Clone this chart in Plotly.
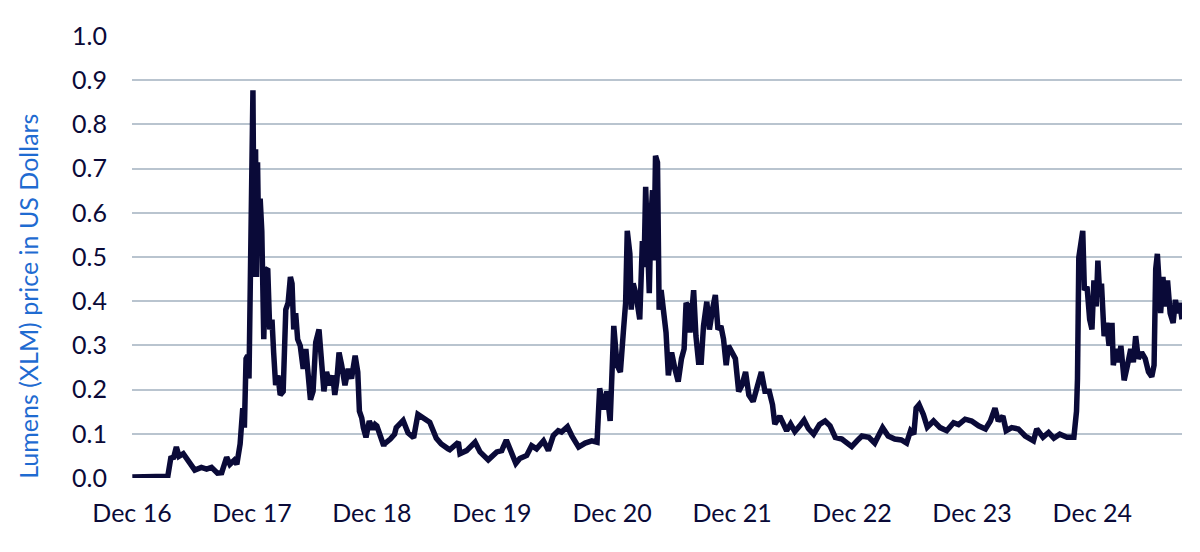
import pandas as pd
import plotly.graph_objects as go

# XLM price
dates = [
    "2017-01-01", "2017-02-25", "2017-04-19", "2017-04-28", "2017-05-07", "2017-05-15", "2017-05-23",
    "2017-06-05", "2017-06-17", "2017-06-30", "2017-07-10", "2017-07-30", "2017-08-15", "2017-08-30",
    "2017-09-17", "2017-09-30", "2017-10-15", "2017-10-25", "2017-11-07", "2017-11-15", "2017-11-25",
    "2017-12-03", "2017-12-08", "2017-12-13", "2017-12-18", "2017-12-22", "2017-12-27",
    "2018-01-03", "2018-01-07", "2018-01-11", "2018-01-14", "2018-01-17", "2018-01-21", "2018-01-25",
    "2018-01-30", "2018-02-05", "2018-02-10", "2018-02-17", "2018-02-23", "2018-03-02", "2018-03-07",
    "2018-03-13", "2018-03-20", "2018-03-27", "2018-04-05", "2018-04-13", "2018-04-20", "2018-04-27",
    "2018-05-02", "2018-05-07", "2018-05-13", "2018-05-19", "2018-05-27", "2018-06-05", "2018-06-13",
    "2018-06-20", "2018-06-27", "2018-07-05", "2018-07-13", "2018-07-23", "2018-07-30", "2018-08-07",
    "2018-08-15", "2018-08-25", "2018-09-03", "2018-09-09", "2018-09-15", "2018-09-22", "2018-09-30",
    "2018-10-10", "2018-10-20", "2018-10-30", "2018-11-10", "2018-11-18", "2018-11-23", "2018-11-30",
    "2018-12-05", "2018-12-13", "2018-12-23",
    "2019-01-03", "2019-01-10", "2019-01-15", "2019-02-05", "2019-02-07", "2019-02-25", "2019-03-10",
    "2019-03-15", "2019-04-05", "2019-04-20", "2019-05-07", "2019-05-20", "2019-06-10", "2019-06-25",
    "2019-07-15", "2019-07-30", "2019-08-20", "2019-08-25", "2019-09-20", "2019-09-25", "2019-10-15",
    "2019-11-10", "2019-11-25", "2019-12-20",
    "2020-01-15", "2020-01-30", "2020-02-13", "2020-02-25", "2020-03-13", "2020-03-25", "2020-04-15",
    "2020-04-30", "2020-05-15", "2020-06-05", "2020-06-20", "2020-07-05", "2020-07-20", "2020-07-30",
    "2020-08-17", "2020-08-30", "2020-09-20", "2020-10-10", "2020-10-30", "2020-11-15", "2020-11-23",
    "2020-12-05", "2020-12-15", "2020-12-25",
    "2021-01-05", "2021-01-15", "2021-01-25", "2021-02-03", "2021-02-10", "2021-02-15", "2021-02-23",
    "2021-02-27", "2021-03-05", "2021-03-13", "2021-03-20", "2021-03-25", "2021-04-02", "2021-04-07",
    "2021-04-12", "2021-04-18", "2021-04-23", "2021-04-28", "2021-05-03", "2021-05-07", "2021-05-12",
    "2021-05-18", "2021-05-23", "2021-05-29", "2021-06-05", "2021-06-13", "2021-06-20", "2021-06-30",
    "2021-07-10", "2021-07-20", "2021-07-30", "2021-08-07", "2021-08-13", "2021-08-20", "2021-08-25",
    "2021-09-05", "2021-09-12", "2021-09-20", "2021-09-28", "2021-10-05", "2021-10-15", "2021-10-23",
    "2021-11-03", "2021-11-10", "2021-11-18", "2021-11-27", "2021-12-05", "2021-12-13", "2021-12-20",
    "2021-12-30",
    "2022-01-10", "2022-01-20", "2022-01-30", "2022-02-10", "2022-02-20", "2022-03-05", "2022-03-17",
    "2022-03-30", "2022-04-10", "2022-04-23", "2022-05-03", "2022-05-10", "2022-05-25", "2022-06-05",
    "2022-06-15", "2022-06-27", "2022-07-10", "2022-07-25", "2022-08-07", "2022-08-20", "2022-09-05",
    "2022-09-23", "2022-10-10", "2022-10-25", "2022-11-10", "2022-11-30", "2022-12-15", "2022-12-30",
    "2023-01-15", "2023-01-30", "2023-02-20", "2023-03-10", "2023-04-03", "2023-04-20", "2023-05-10",
    "2023-05-30", "2023-06-15", "2023-06-27", "2023-07-07", "2023-07-14", "2023-07-23", "2023-08-05",
    "2023-08-17", "2023-09-05", "2023-09-25", "2023-10-15", "2023-11-05", "2023-11-20", "2023-12-10",
    "2023-12-30",
    "2024-01-20", "2024-02-10", "2024-02-25", "2024-03-10", "2024-03-20", "2024-04-03", "2024-04-13",
    "2024-04-30", "2024-05-20", "2024-06-10", "2024-07-05", "2024-07-15", "2024-08-03", "2024-08-20",
    "2024-09-05", "2024-09-23", "2024-10-15", "2024-11-05", "2024-11-13", "2024-11-16", "2024-11-20",
    "2024-11-25", "2024-12-02", "2024-12-07", "2024-12-15", "2024-12-23", "2024-12-30",
    "2025-01-05", "2025-01-12", "2025-01-17", "2025-01-23", "2025-01-28", "2025-02-05", "2025-02-13",
    "2025-02-20", "2025-03-01", "2025-03-05", "2025-03-13", "2025-03-21", "2025-03-28", "2025-04-07",
    "2025-04-17", "2025-04-27", "2025-05-05", "2025-05-12", "2025-05-20", "2025-05-30", "2025-06-10",
    "2025-06-20", "2025-06-30", "2025-07-07", "2025-07-12", "2025-07-17", "2025-07-22", "2025-07-27",
    "2025-08-03", "2025-08-10", "2025-08-17", "2025-08-25", "2025-09-03", "2025-09-10", "2025-09-17",
    "2025-09-23", "2025-09-30",
]
prices = [
    0.002, 0.002, 0.004, 0.045, 0.047, 0.070, 0.049,
    0.055, 0.044, 0.029, 0.018, 0.024, 0.020, 0.024,
    0.011, 0.012, 0.047, 0.031, 0.040, 0.031, 0.077,
    0.158, 0.114, 0.270, 0.277, 0.225, 0.558,
    0.877, 0.455, 0.744, 0.455, 0.714, 0.514, 0.632,
    0.558, 0.314, 0.470, 0.474, 0.336, 0.358, 0.284,
    0.210, 0.232, 0.188, 0.196, 0.381, 0.396, 0.455,
    0.440, 0.336, 0.373, 0.314, 0.299, 0.247, 0.292,
    0.225, 0.177, 0.196, 0.307, 0.336, 0.262, 0.196,
    0.240, 0.210, 0.232, 0.188, 0.218, 0.284, 0.255,
    0.210, 0.247, 0.225, 0.277, 0.240, 0.151, 0.136,
    0.114, 0.092, 0.129,
    0.110, 0.121, 0.118, 0.073, 0.077, 0.088, 0.099,
    0.114, 0.130, 0.102, 0.091, 0.144, 0.133, 0.126,
    0.090, 0.077, 0.066, 0.064, 0.081, 0.055, 0.062,
    0.081, 0.059, 0.041,
    0.059, 0.062, 0.086, 0.062, 0.033, 0.044, 0.051,
    0.073, 0.066, 0.084, 0.062, 0.096, 0.107, 0.104,
    0.116, 0.096, 0.070, 0.079, 0.084, 0.081, 0.203,
    0.155, 0.196, 0.129,
    0.344, 0.255, 0.240, 0.329, 0.396, 0.559, 0.507,
    0.381, 0.440, 0.418, 0.373, 0.359, 0.536, 0.477,
    0.659, 0.551, 0.418, 0.588, 0.651, 0.492, 0.729,
    0.714, 0.381, 0.425, 0.373, 0.329, 0.232, 0.284,
    0.247, 0.218, 0.270, 0.292, 0.396, 0.388, 0.329,
    0.425, 0.321, 0.262, 0.262, 0.344, 0.399, 0.336,
    0.388, 0.414, 0.336, 0.344, 0.314, 0.255, 0.299,
    0.284,
    0.270, 0.196, 0.210, 0.240, 0.188, 0.173, 0.203,
    0.240, 0.196, 0.196, 0.166, 0.122, 0.140, 0.121,
    0.107, 0.122, 0.105, 0.118, 0.131, 0.112, 0.099,
    0.121, 0.129, 0.118, 0.092, 0.088, 0.081, 0.071,
    0.084, 0.095, 0.092, 0.079, 0.114, 0.095, 0.088,
    0.086, 0.079, 0.107, 0.099, 0.158, 0.166, 0.144,
    0.115, 0.129, 0.114, 0.107, 0.125, 0.121, 0.133,
    0.129,
    0.118, 0.111, 0.129, 0.158, 0.129, 0.140, 0.107,
    0.114, 0.111, 0.095, 0.084, 0.111, 0.092, 0.103,
    0.090, 0.099, 0.092, 0.092, 0.151, 0.225, 0.499,
    0.536, 0.559, 0.425, 0.433, 0.359, 0.336,
    0.447, 0.388, 0.492, 0.410, 0.440, 0.321, 0.351,
    0.299, 0.351, 0.255, 0.292, 0.262, 0.299, 0.221,
    0.255, 0.292, 0.262, 0.321, 0.270, 0.284, 0.270,
    0.240, 0.229, 0.255, 0.473, 0.507, 0.447, 0.373,
    0.455, 0.388, 0.447, 0.373, 0.351, 0.403, 0.373,
    0.396, 0.359,
]

tick_dates = ["2016-12-31", "2017-12-31", "2018-12-31", "2019-12-31", "2020-12-31",
              "2021-12-31", "2022-12-31", "2023-12-31", "2024-12-31"]
tick_labels = ["Dec 16", "Dec 17", "Dec 18", "Dec 19", "Dec 20",
               "Dec 21", "Dec 22", "Dec 23", "Dec 24"]

navy = "#0a0a38"
font = "Lato"

fig = go.Figure()
fig.add_trace(go.Scatter(x=pd.to_datetime(dates), y=prices, mode="lines",
                         line=dict(color=navy, width=5.5), hoverinfo="x+y"))

# page body has an 8px margin, so margins are shifted by 8px
fig.update_layout(
    width=1200, height=552,
    margin=dict(l=124, r=26, t=20, b=82),
    plot_bgcolor="white", paper_bgcolor="white",
    showlegend=False,
    font=dict(family=font, size=25, color=navy),
)
fig.update_xaxes(
    range=["2016-12-31", "2025-09-30"],
    tickvals=tick_dates, ticktext=tick_labels,
    showgrid=False, zeroline=False, showline=False,
    ticklabelstandoff=18,
)
fig.update_yaxes(
    range=[0, 1.0], dtick=0.1, tickformat=".1f",
    showgrid=True, gridcolor="#b9c4cf", gridwidth=2,
    zeroline=False, showline=False,
    ticklabelstandoff=24,
)
fig.add_annotation(
    text="Lumens (XLM) price in US Dollars", textangle=-90,
    xref="paper", yref="paper", x=-0.099, y=0.41,
    xanchor="center", yanchor="middle", showarrow=False,
    font=dict(family=font, size=25, color="#1f6bd1"),
)

fig.write_html("out.html")
